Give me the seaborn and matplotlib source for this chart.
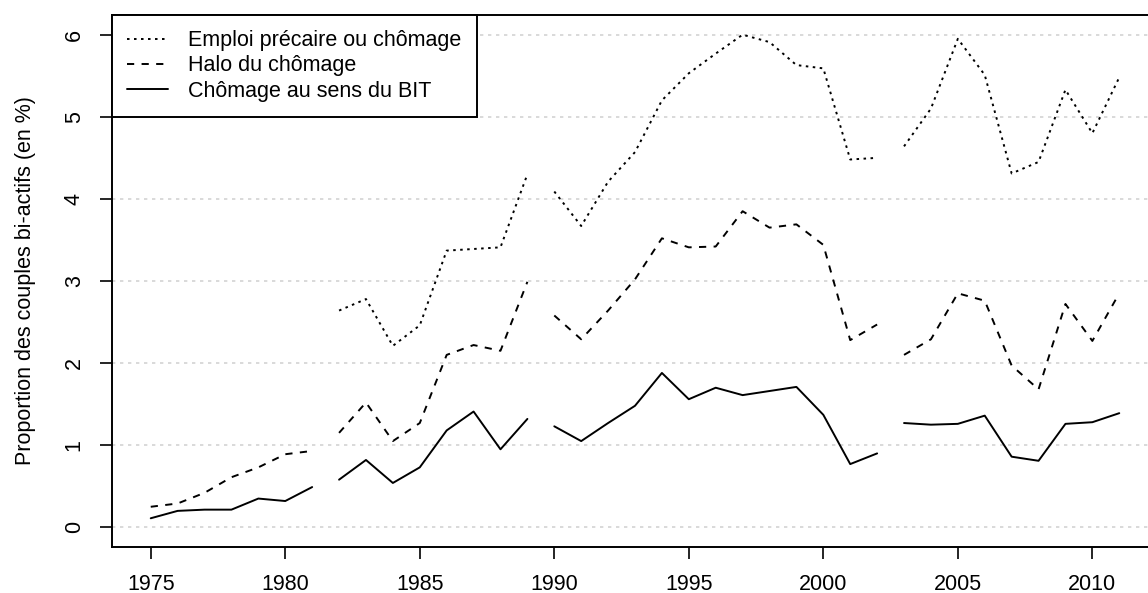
import numpy as np
import pandas as pd
import matplotlib
matplotlib.use("Agg")
import matplotlib.pyplot as plt
from matplotlib.lines import Line2D
import seaborn as sns

years = list(range(1975, 2012))
nan = np.nan
precaire = [nan, nan, nan, nan, nan, nan, nan,
            2.64, 2.78, 2.21, 2.46, 3.37, 3.39, 3.41, 4.30,
            4.09, 3.67, 4.21, 4.57, 5.20, 5.53, 5.77, 6.00, 5.91, 5.63, 5.59, 4.48, 4.50,
            4.64, 5.10, 5.95, 5.51, 4.31, 4.45, 5.33, 4.80, 5.48]
halo = [0.25, 0.29, 0.42, 0.61, 0.73, 0.89, 0.93,
        1.15, 1.52, 1.05, 1.27, 2.10, 2.22, 2.15, 2.99,
        2.58, 2.29, 2.64, 3.02, 3.52, 3.41, 3.42, 3.85, 3.65, 3.69, 3.44, 2.28, 2.47,
        2.10, 2.29, 2.85, 2.76, 1.97, 1.68, 2.72, 2.27, 2.85]
bit = [0.11, 0.20, 0.215, 0.215, 0.35, 0.32, 0.49,
       0.58, 0.82, 0.54, 0.73, 1.18, 1.41, 0.95, 1.32,
       1.23, 1.05, 1.27, 1.48, 1.88, 1.56, 1.70, 1.61, 1.66, 1.71, 1.37, 0.77, 0.90,
       1.27, 1.25, 1.26, 1.36, 0.86, 0.81, 1.26, 1.28, 1.39]
series_breaks = [1982, 1990, 2003]
labels = ["Emploi précaire ou chômage", "Halo du chômage", "Chômage au sens du BIT"]
x_ticks = [1975, 1980, 1985, 1990, 1995, 2000, 2005, 2010]
y_ticks = [0, 1, 2, 3, 4, 5, 6]
ylabel = "Proportion des couples bi-actifs (en %)"

sns.set_style("white")
plt.rcParams["font.family"] = ["Liberation Sans", "DejaVu Sans"]
plt.rcParams["text.color"] = "black"
plt.rcParams["axes.labelcolor"] = "black"
plt.rcParams["xtick.color"] = "black"
plt.rcParams["ytick.color"] = "black"
FS = 15.5

segment = np.searchsorted(series_breaks, years, side="right")
frames = []
for name, vals in zip(labels, [precaire, halo, bit]):
    frames.append(pd.DataFrame({"year": years, "value": vals, "series": name,
                                "segment": [f"{name}-{s}" for s in segment]}))
df = pd.concat(frames).dropna()

lw = 1.4
dot = (1.3, 2.3)
dash = (3.7, 3.8)
dash_map = {labels[0]: dot, labels[1]: dash, labels[2]: ""}

fig = plt.figure(figsize=(11.48, 5.93), dpi=100)
ax = fig.add_axes([112 / 1148, 46 / 593, 1046 / 1148, 532 / 593])
sns.lineplot(data=df, x="year", y="value", style="series", units="segment",
             estimator=None, dashes=dash_map, color="black", lw=lw,
             legend=False, ax=ax, sort=True)

ax.set_xlim(1975 - 36 * 0.04, 2011 + 36 * 0.04)
ax.set_ylim(-0.24, 6.24)
ax.set_xticks(x_ticks)
ax.set_yticks(y_ticks)
ax.set_xticklabels([str(v) for v in x_ticks], fontsize=FS)
ax.set_yticklabels([str(v) for v in y_ticks], fontsize=FS, rotation=90, va="center")
ax.set_xlabel("")
ax.set_ylabel(ylabel, fontsize=FS)
ax.yaxis.set_label_coords(-0.073, 0.5)
ax.grid(axis="y", color="#d3d3d3", linestyle=(0, (2.0, 2.8)), lw=1.2)
ax.grid(axis="x", visible=False)
ax.set_axisbelow(True)
ax.tick_params(axis="both", direction="out", length=8.6, width=1.2, color="black",
               labelcolor="black")
ax.tick_params(axis="x", pad=11, bottom=True)
ax.tick_params(axis="y", pad=11, left=True)
for s in ax.spines.values():
    s.set_color("black")
    s.set_linewidth(1.4)

handles = [Line2D([], [], color="black", lw=lw, linestyle=(0, dot)),
           Line2D([], [], color="black", lw=lw, linestyle=(0, dash)),
           Line2D([], [], color="black", lw=lw, linestyle="-")]
leg = ax.legend(handles, labels, loc="upper left", bbox_to_anchor=(0, 1),
                borderaxespad=0, fontsize=FS, handlelength=1.9, handletextpad=0.95,
                labelspacing=0.2, borderpad=0.7, frameon=True, fancybox=False)
leg.get_frame().set_edgecolor("black")
leg.get_frame().set_linewidth(1.4)
leg.get_frame().set_alpha(1)

fig.savefig("out.png", dpi=100)
